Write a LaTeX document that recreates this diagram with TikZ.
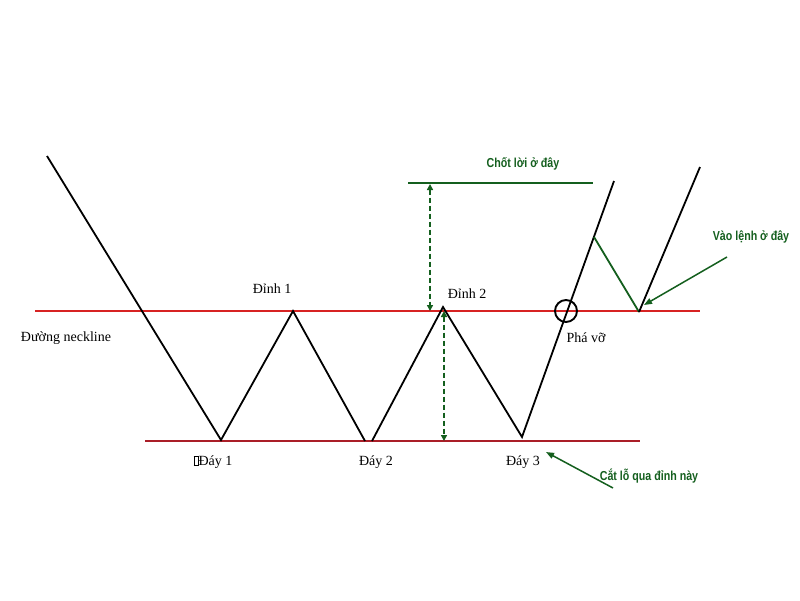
\documentclass[tikz,border=0pt]{standalone}
\usepackage{fontspec}
\setmainfont{Liberation Serif}
\newfontfamily\greenfont[FakeStretch=0.82]{Liberation Sans}
\usetikzlibrary{arrows.meta}
\definecolor{dgreen}{RGB}{20,95,30}
\definecolor{nred}{RGB}{215,35,35}
\definecolor{bred}{RGB}{170,30,40}
\tikzset{
  price/.style={draw=black,line width=1.8pt,line join=miter},
  neck/.style={draw=nred,line width=1.8pt},
  base/.style={draw=bred,line width=1.8pt},
  gline/.style={draw=dgreen,line width=1.8pt},
  gdash/.style={draw=dgreen,line width=1.7pt,dash pattern=on 5pt off 3pt,{Triangle[length=6pt,width=6pt]}-{Triangle[length=6pt,width=6pt]}},
  garrow/.style={draw=dgreen,line width=1.5pt,-{Triangle[length=8pt,width=6pt]}},
  blabel/.style={font=\fontsize{14}{16}\selectfont,text=black,inner sep=0pt},
  glabel/.style={font=\greenfont\bfseries\fontsize{13}{15}\selectfont,text=dgreen,inner sep=0pt}
}
\begin{document}
\begin{tikzpicture}[x=1pt,y=-1pt]
\useasboundingbox[fill=white] (0,0) rectangle (800,600);
% coordinates of price path
\coordinate (s0) at (47,156);
\coordinate (d1) at (221,440);
\coordinate (p1) at (293,311);
\coordinate (d2a) at (365,441);
\coordinate (d2b) at (372,441);
\coordinate (p2) at (443,307);
\coordinate (d3) at (522,437);
\coordinate (u1) at (614,181);
\coordinate (r1) at (594,237);
\coordinate (r2) at (639,312);
\coordinate (u2) at (700,167);
% lines
\coordinate (nl) at (35,311);
\coordinate (nr) at (700,311);
\coordinate (bl) at (145,441);
\coordinate (br) at (640,441);
\coordinate (tl) at (408,183);
\coordinate (tr) at (593,183);
\draw[neck] (nl) -- (nr);
\draw[base] (bl) -- (br);
\draw[gline] (tl) -- (tr);
\draw[price] (s0) -- (d1) -- (p1) -- (d2a);
\draw[price] (d2b) -- (p2) -- (d3) -- (u1);
\draw[gline] (r1) -- (r2);
\draw[price] (r2) -- (u2);
% dashed measures
\coordinate (m1t) at (430,184);
\coordinate (m1b) at (430,311);
\coordinate (m2t) at (444,311);
\coordinate (m2b) at (444,441);
\draw[gdash] (m1t) -- (m1b);
\draw[gdash] (m2t) -- (m2b);
% breakout circle
\node[draw=black,line width=1.9pt,circle,minimum size=22pt,inner sep=0pt] (brk) at (566,311) {};
% labels
\node[blabel] (ln) at (66,338) {Đường neckline};
\node[blabel] (lp1) at (272,289) {Đỉnh 1};
\node[blabel] (lp2) at (467,294) {Đỉnh 2};
\node[blabel] (ld1) at (213,462) {{\fboxsep=0pt\fboxrule=0.5pt\fbox{\rule{0pt}{9pt}\hspace{4pt}}}Đáy 1};
\node[blabel] (ld2) at (376,462) {Đáy 2};
\node[blabel] (ld3) at (523,462) {Đáy 3};
\node[blabel] (lbr) at (586,338) {Phá vỡ};
\node[glabel] (lt) at (523,164) {Chốt lời ở đây};
\node[glabel] (le) at (751,237) {Vào lệnh ở đây};
\node[glabel] (ls) at (649,476) {Cắt lỗ qua đỉnh này};
% pointer arrows
\coordinate (ea) at (727,257);
\coordinate (eb) at (644,305);
\coordinate (sa) at (613,488);
\coordinate (sb) at (546,452);
\draw[garrow] (ea) -- (eb);
\draw[garrow] (sa) -- (sb);
\end{tikzpicture}
\end{document}
